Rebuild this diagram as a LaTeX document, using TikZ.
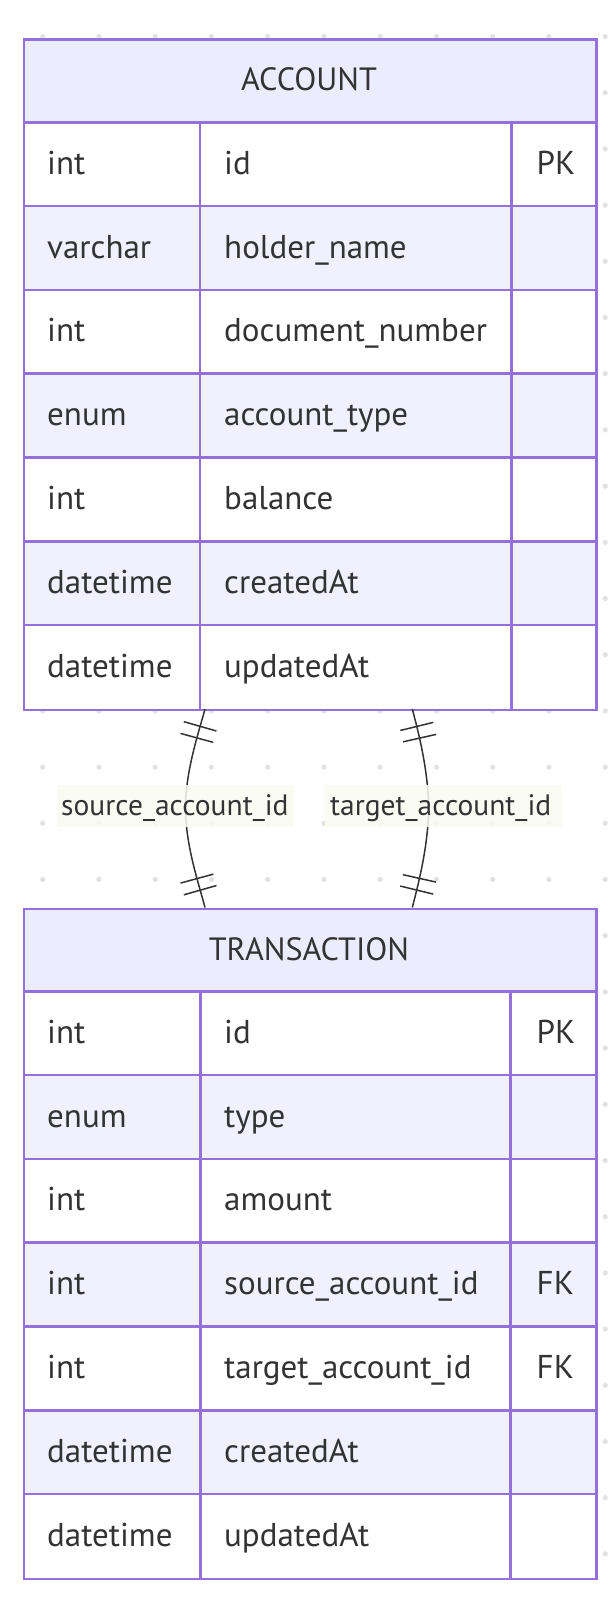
\documentclass[tikz,border=0pt]{standalone}
\usepackage{fontspec}
\setmainfont{PT Sans}
\usetikzlibrary{decorations.markings}
\definecolor{erline}{HTML}{9370DB}
\definecolor{erhead}{HTML}{ECECFF}
\definecolor{ereven}{HTML}{F0F0FF}
\definecolor{ertext}{HTML}{333333}
\definecolor{erdot}{HTML}{E2E2E2}
\definecolor{erlbl}{HTML}{FAFCF3}
\definecolor{erconn}{HTML}{333333}
\tikzset{
  gridline/.style={draw=erline, line width=2.5pt},
  tablebox/.style={draw=erline, line width=2.5pt, inner sep=0pt, minimum width=572.5pt, minimum height=670.2pt, anchor=north west},
  celltext/.style={anchor=base west, inner sep=0pt, text=ertext, font=\fontsize{33}{38}\selectfont},
  headtext/.style={anchor=base, inner sep=0pt, text=ertext, font=\fontsize{32.2}{38}\selectfont},
  lblbox/.style={fill=erlbl, fill opacity=0.85, inner sep=0pt, minimum width=237pt, minimum height=42pt},
  lbltext/.style={anchor=base west, inner sep=0pt, text=ertext, font=\fontsize{29.5}{34}\selectfont},
  relline/.style={draw=erconn, line width=1.5pt, postaction=decorate,
    decoration={markings,
      mark=at position 18pt with {\draw[erconn, line width=1.5pt] (0pt,-17pt) -- (0pt,17pt);},
      mark=at position 30pt with {\draw[erconn, line width=1.5pt] (0pt,-17pt) -- (0pt,17pt);},
      mark=at position -18pt with {\draw[erconn, line width=1.5pt] (0pt,-17pt) -- (0pt,17pt);},
      mark=at position -30pt with {\draw[erconn, line width=1.5pt] (0pt,-17pt) -- (0pt,17pt);}}}
}
\begin{document}
\begin{tikzpicture}[x=1pt, y=-1pt]
\useasboundingbox (0,0) rectangle (615,1600);
\fill[white] (0,0) rectangle (615,1600);
% background dots
\foreach \i in {0,...,10}{
  \foreach \j in {0,...,27}{
    \fill[erdot] (42.7+56.25*\i, 36.5+56.2*\j) circle (2.6pt);
  }
}
% ---------- ACCOUNT ----------
\def\T{38.5}
\fill[erhead] (22.5,\T) rectangle (595.5,\T+83.8);
\foreach \r in {1,...,7}{
  \pgfmathsetmacro{\top}{\T+83.8*\r}
  \ifodd\r \fill[white] (22.5,\top) rectangle (595.5,\top+83.8);
  \else \fill[ereven] (22.5,\top) rectangle (595.5,\top+83.8); \fi
  \draw[gridline] (22.5,\top) -- (595.5,\top);
}
\draw[gridline] (200,\T+83.8) -- (200,\T+670.2);
\draw[gridline] (511.3,\T+83.8) -- (511.3,\T+670.2);
\node[tablebox] (acc) at (22.5,\T) {};
\node[headtext] (acch) at (309,\T+52.5) {ACCOUNT};
\foreach \ty/\nm/\ky [count=\r] in {int/id/PK, varchar/holder\_name/{}, int/document\_number/{}, enum/account\_type/{}, int/balance/{}, datetime/createdAt/{}, datetime/updatedAt/{}}{
  \node[celltext] (acc-\r-t) at (47,\T+83.8*\r+52) {\ty};
  \node[celltext] (acc-\r-n) at (224,\T+83.8*\r+52) {\nm};
  \node[celltext] (acc-\r-k) at (536.5,\T+83.8*\r+52) {\ky};
}
% ---------- TRANSACTION ----------
\def\T{907.5}
\fill[erhead] (22.5,\T) rectangle (595.5,\T+83.8);
\foreach \r in {1,...,7}{
  \pgfmathsetmacro{\top}{\T+83.8*\r}
  \ifodd\r \fill[white] (22.5,\top) rectangle (595.5,\top+83.8);
  \else \fill[ereven] (22.5,\top) rectangle (595.5,\top+83.8); \fi
  \draw[gridline] (22.5,\top) -- (595.5,\top);
}
\draw[gridline] (200.5,\T+83.8) -- (200.5,\T+670.2);
\draw[gridline] (510.7,\T+83.8) -- (510.7,\T+670.2);
\node[tablebox] (trx) at (22.5,\T) {};
\node[headtext] (trxh) at (309,\T+52.5) {TRANSACTION};
\foreach \ty/\nm/\ky [count=\r] in {int/id/PK, enum/type/{}, int/amount/{}, int/source\_account\_id/FK, int/target\_account\_id/FK, datetime/createdAt/{}, datetime/updatedAt/{}}{
  \node[celltext] (trx-\r-t) at (47,\T+83.8*\r+52) {\ty};
  \node[celltext] (trx-\r-n) at (224,\T+83.8*\r+52) {\nm};
  \node[celltext] (trx-\r-k) at (536.5,\T+83.8*\r+52) {\ky};
}
% ---------- relationships ----------
\coordinate (accS) at (205,709);
\coordinate (accT) at (412.3,709);
\coordinate (trxS) at (205,907.5);
\coordinate (trxT) at (412.3,907.5);
\coordinate (midS) at (185.5,808);
\coordinate (midT) at (428.5,808);
\path[relline] (accS) .. controls (199.5,730) and (185.5,770) .. (midS)
  .. controls (185.5,846) and (199.5,886) .. (trxS);
\path[relline] (accT) .. controls (417.8,730) and (428.5,770) .. (midT)
  .. controls (428.5,846) and (417.8,886) .. (trxT);
\node[lblbox] (lbS) at (175.5,805.5) {};
\node[lblbox] (lbT) at (443,805.5) {};
\node[lbltext] (lbStxt) at (61,815) {source\_account\_id};
\node[lbltext] (lbTtxt) at (330,815) {target\_account\_id};
\end{tikzpicture}
\end{document}
